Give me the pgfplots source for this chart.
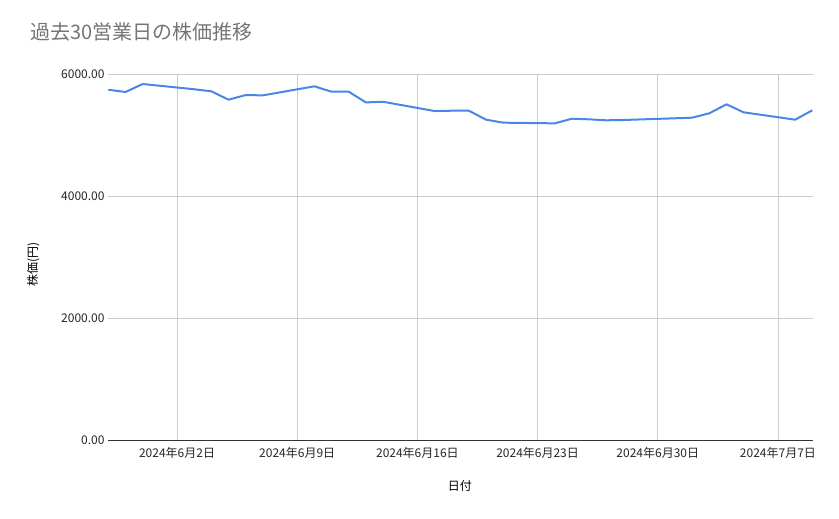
\documentclass[border=0pt]{standalone}
\usepackage{fontspec}
\setmainfont{Noto Sans CJK JP}
\usepackage{pgfplots}
\pgfplotsset{compat=1.18}
\definecolor{lineblue}{HTML}{4A86E8}
\definecolor{gridgray}{HTML}{CCCCCC}
\definecolor{titlegray}{HTML}{757575}
\definecolor{axisdark}{HTML}{333333}

% x = day number counted from 31 May 2024 (6/2 = 2, 7/1 = 31)
\pgfplotstableread{
day  price
-2   5742
-1   5705
0    5836
3    5750
4    5716
5    5579
6    5655
7    5650
10   5798
11   5710
12   5710
13   5534
14   5545
17   5393
18   5398
19   5398
20   5251
21   5202
24   5191
25   5267
26   5257
27   5241
28   5246
31   5274
32   5284
33   5356
34   5503
35   5372
38   5251
39   5405
}\pricedata

\begin{document}
\begin{tikzpicture}
\useasboundingbox (-108bp,-79bp) rectangle (731bp,440bp);
\begin{axis}[
  at={(0,0)}, anchor=south west,
  scale only axis,
  width=705bp, height=366bp,
  xmin=-2.02, xmax=39.04,
  ymin=0, ymax=6000,
  xtick={2,9,16,23,30,37},
  xticklabels={2024年6月2日,2024年6月9日,2024年6月16日,2024年6月23日,2024年6月30日,2024年7月7日},
  ytick={0,2000,4000,6000},
  /pgf/number format/assume math mode=true,
  yticklabel={\pgfmathprintnumber[fixed,fixed zerofill,precision=2,1000 sep={}]{\tick}},
  axis x line*=bottom, axis y line*=left,
  x axis line style={draw=axisdark, line width=1pt},
  y axis line style={draw=none},
  major tick length=0pt,
  grid=major,
  major grid style={draw=gridgray, line width=0.8pt},
  ticklabel style={font=\fontsize{12bp}{14bp}\selectfont, text=black!85},
  xticklabel style={yshift=-4bp},
  title={過去30営業日の株価推移},
  title style={font=\fontsize{20bp}{24bp}\selectfont, text=titlegray, anchor=west,
    at={(axis description cs:-0.115,1.098)}},
  xlabel={日付},
  xlabel style={font=\fontsize{12bp}{14bp}\selectfont, anchor=center,
    at={(axis description cs:0.499,-0.126)}},
  ylabel={株価(円)},
  ylabel style={font=\fontsize{12bp}{14bp}\selectfont, anchor=center,
    at={(axis description cs:-0.106,0.48)}},
  clip=false,
]
\addplot[lineblue, line width=2bp, line join=round, no marks] table[x=day, y=price] {\pricedata};
\end{axis}
\end{tikzpicture}
\end{document}
